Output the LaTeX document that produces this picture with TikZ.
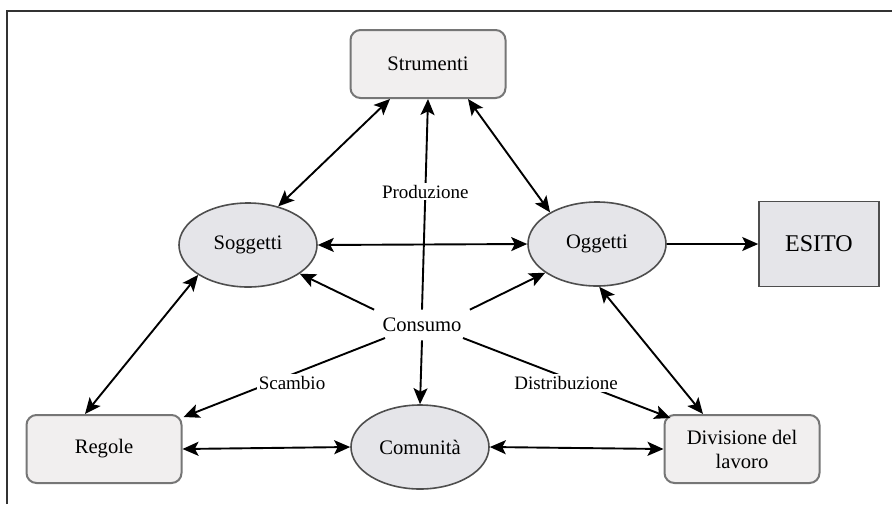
\documentclass[tikz,border=0pt]{standalone}
\usepackage{fontspec}
\setmainfont{Liberation Serif}
\usetikzlibrary{arrows.meta,calc,shapes.geometric}
\definecolor{boxfill}{HTML}{F1EFEF}
\definecolor{ellfill}{HTML}{E5E5E9}
\definecolor{boxline}{HTML}{767676}
\definecolor{ellline}{HTML}{4E4E4E}
\definecolor{framecol}{HTML}{333333}
\tikzset{
  rbox/.style={draw=boxline, line width=1pt, fill=boxfill, rounded corners=5pt,
    minimum width=77.5pt, minimum height=34pt, inner sep=0pt, align=center,
    font=\fontsize{10.3}{12}\selectfont},
  ell/.style={ellipse, draw=ellline, line width=0.8pt, fill=ellfill,
    minimum width=69pt, minimum height=42pt, inner sep=0pt,
    font=\fontsize{10.3}{12}\selectfont},
  sqbox/.style={draw=ellline, line width=0.8pt, fill=ellfill,
    minimum width=60pt, minimum height=42.5pt, inner sep=0pt,
    font=\fontsize{12}{14}\selectfont},
  lbl/.style={fill=white, inner sep=1pt, font=\fontsize{9.5}{11}\selectfont},
  conn/.style={line width=0.95pt, black},
  tip/.style={-{Stealth[length=8pt,width=7pt,inset=1.8pt]}},
  biarrow/.style={{Stealth[length=8pt,width=7pt,inset=1.8pt]}-{Stealth[length=8pt,width=7pt,inset=1.8pt]}}
}
\begin{document}
\begin{tikzpicture}[x=0.5pt,y=-0.5pt]
\useasboundingbox (0,0) rectangle (892,504);
\fill[white] (0,0) rectangle (892,504);
\draw[framecol, line width=0.8pt] (7,504) -- (7,11) -- (892,11);

\node[rbox] (str) at (428,64) {Strumenti};
\node[ell] (sog) at (248,245) {Soggetti};
\node[ell] (ogg) at (597,244) {Oggetti};
\node[sqbox] (esito) at (819,244) {ESITO};
\node[rbox] (reg) at (104,449) {Regole};
\node[ell] (com) at (420,447) {Comunità};
\node[rbox] (div) at (742,449) {Divisione del\\lavoro};
\node[inner sep=4pt, font=\fontsize{10.3}{12}\selectfont] (cons) at (422,325) {Consumo};

% Strumenti links
\draw[conn,biarrow] ($(str.south)+(-38,0)$) -- (sog.52);
\draw[conn,biarrow] ($(str.south)+(40,0)$) -- (ogg.146);
\draw[conn,tip] (cons.north) -- (str.south)
  node[lbl, pos=0.56] (prod) {Produzione};

% Consumo links
\draw[conn,tip] (cons.north west) -- (sog.331);
\draw[conn,tip] (cons.north east) -- (ogg.209);
\draw[conn,tip] (cons.south) -- (com.north);
\draw[conn,tip] ($(cons)+(-37,13)$) -- ($(reg.north east)+(1,3)$);
\node[lbl] (scambio) at (292,383) {Scambio};
\draw[conn,tip] ($(cons)+(41,13)$) -- ($(div.north west)+(7,4)$);
\node[lbl] (distr) at (566,383) {Distribuzione};

% Other links
\draw[conn,biarrow] (sog.east) -- (ogg.west);
\draw[conn,tip] (ogg.east) -- (esito.west);
\draw[conn,biarrow] (sog.211) -- ($(reg.north)+(-19,0)$);
\draw[conn,biarrow] (ogg.273) -- ($(div.north)+(-39,0)$);
\draw[conn,biarrow] (reg.east) -- (com.west);
\draw[conn,biarrow] (com.east) -- (div.west);
\end{tikzpicture}
\end{document}
